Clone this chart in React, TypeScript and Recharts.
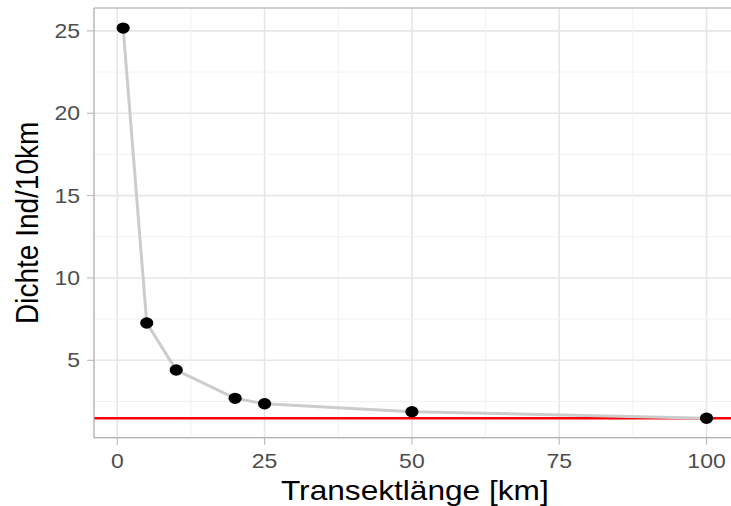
import { ComposedChart, Line, XAxis, YAxis, CartesianGrid, ReferenceLine } from "recharts";

// Transect length (km) vs density (Ind/10km)
const lengths = [1, 5, 10, 20, 25, 50, 100];
const density = [25.17, 7.26, 4.41, 2.69, 2.36, 1.88, 1.48];
const refDensity = 1.48;

const xTicks = [0, 25, 50, 75, 100];
const yTicks = [5, 10, 15, 20, 25];
const xMinor = [12.5, 37.5, 62.5, 87.5];
const yMinor = [2.5, 7.5, 12.5, 17.5, 22.5];

const xDomain: [number, number] = [-3.95, 104.95];
const yDomain: [number, number] = [0.3, 26.39];

const data = lengths.map((x, i) => ({ x, y: density[i] }));

const STRETCH = 1.15;
const FONT = "'Liberation Sans', Arial, sans-serif";

function XTick({ x, y, payload }: any) {
  return (
    <text
      transform={`translate(${x},${y + 21}) scale(${STRETCH},1)`}
      textAnchor="middle"
      fill="#4d4d4d"
      fontSize={20}
      fontFamily={FONT}
    >
      {payload.value}
    </text>
  );
}

function YTick({ x, y, payload }: any) {
  return (
    <text
      transform={`translate(${x - 5},${y + 7}) scale(${STRETCH},1)`}
      textAnchor="end"
      fill="#4d4d4d"
      fontSize={20}
      fontFamily={FONT}
    >
      {payload.value}
    </text>
  );
}

function Dot({ cx, cy }: any) {
  if (cx == null || cy == null) return null;
  return <ellipse cx={cx} cy={cy} rx={6.6} ry={5.7} fill="#000" />;
}

export default function App() {
  return (
    <div
      style={{
        position: "fixed",
        left: 0,
        top: 0,
        width: 731,
        height: 506,
        overflow: "hidden",
        background: "#fff",
      }}
    >
      <ComposedChart
        width={745}
        height={506}
        data={data}
        margin={{ top: 8, right: 9.3, left: 0, bottom: 0 }}
      >
        <CartesianGrid stroke="#e6e6e6" strokeWidth={1.6} horizontal vertical />
        {xMinor.map((v) => (
          <ReferenceLine key={"xm" + v} x={v} stroke="#f1f1f1" strokeWidth={1} />
        ))}
        {yMinor.map((v) => (
          <ReferenceLine key={"ym" + v} y={v} stroke="#f1f1f1" strokeWidth={1} />
        ))}
        <ReferenceLine y={yDomain[1]} stroke="#b3b3b3" strokeWidth={1.2} />
        <XAxis
          dataKey="x"
          type="number"
          domain={xDomain}
          ticks={xTicks}
          allowDataOverflow
          height={68.3}
          tickSize={7}
          stroke="#b3b3b3"
          tickLine={{ stroke: "#b3b3b3" }}
          axisLine={{ stroke: "#b3b3b3", strokeWidth: 1.2 }}
          tick={<XTick />}
          label={({ viewBox }: any) => (
            <text
              transform={`translate(${viewBox.x + viewBox.width / 2},${viewBox.y + 62}) scale(1.13,1)`}
              textAnchor="middle"
              fill="#000"
              fontSize={28}
              fontFamily={FONT}
            >
              Transektlänge [km]
            </text>
          )}
        />
        <YAxis
          type="number"
          domain={yDomain}
          ticks={yTicks}
          allowDataOverflow
          width={94}
          tickSize={7}
          stroke="#b3b3b3"
          tickLine={{ stroke: "#b3b3b3" }}
          axisLine={{ stroke: "#b3b3b3", strokeWidth: 1.2 }}
          tick={<YTick />}
          label={({ viewBox }: any) => (
            <text
              transform={`translate(${viewBox.x + 37.5},${viewBox.y + viewBox.height / 2}) scale(${STRETCH},1) rotate(-90)`}
              textAnchor="middle"
              fill="#000"
              fontSize={28}
              fontFamily={FONT}
            >
              Dichte Ind/10km
            </text>
          )}
        />
        <ReferenceLine y={refDensity} stroke="#ff0000" strokeWidth={2.6} />
        <Line
          dataKey="y"
          stroke="#cccccc"
          strokeWidth={3}
          type="linear"
          dot={<Dot />}
          activeDot={false}
          isAnimationActive={false}
        />
      </ComposedChart>
    </div>
  );
}
